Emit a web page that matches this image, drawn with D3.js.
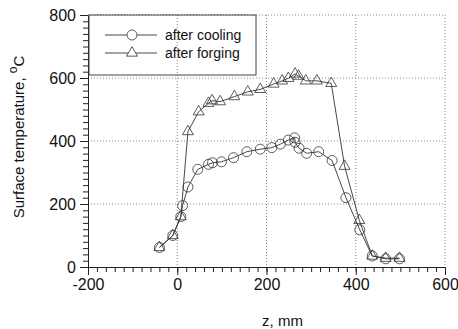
<!DOCTYPE html>
<html>
<head>
<meta charset="utf-8">
<script src="https://cdn.jsdelivr.net/npm/d3@7"></script>
<style>
  body { margin: 0; background: #fff; }
  svg { font-family: Arial, "Liberation Sans", sans-serif; }
</style>
</head>
<body>
<div id="chart"></div>
<script>
// after cooling (circles)
const coolZ = [-40, -10, 8, 12, 24, 46, 70, 79, 99, 126, 156, 186, 212, 231, 249, 263, 264, 273, 290, 317, 347, 378, 409, 437, 467, 498]
const coolT = [62, 100, 160, 195, 254, 310, 326, 331, 334, 347, 366, 374, 379, 390, 403, 410, 396, 377, 361, 366, 338, 220, 118, 35, 26, 26]
// after forging (triangles)
const forgeZ = [-40, -10, 8, 24, 48, 70, 78, 96, 128, 158, 186, 216, 235, 249, 264, 272, 288, 313, 345, 375, 408, 437, 467, 498]
const forgeT = [62, 100, 160, 430, 493, 520, 528, 525, 541, 556, 564, 581, 591, 599, 613, 606, 591, 591, 583, 320, 148, 35, 28, 28]

const seriesNames = ["after cooling", "after forging"]
const xTicks = [-200, 0, 200, 400, 600]
const yTicks = [0, 200, 400, 600, 800]

const margin = {top: 15, right: 13, bottom: 62, left: 88},
    width = 458 - margin.left - margin.right,
    height = 329 - margin.top - margin.bottom;

const svg = d3.select("#chart")
  .append("svg")
    .attr("width", 458)
    .attr("height", 329)
  .append("g")
    .attr("transform", `translate(${margin.left}, ${margin.top})`);

const x = d3.scaleLinear().domain([-200, 600]).range([0, width])
const y = d3.scaleLinear().domain([0, 800]).range([height, 0])

// dotted grid
svg.append("g")
  .selectAll("line")
  .data(xTicks.slice(1))
  .enter().append("line")
    .attr("x1", d => x(d)).attr("x2", d => x(d))
    .attr("y1", 0).attr("y2", height)
    .attr("stroke", "#888").attr("stroke-width", 1)
    .attr("stroke-dasharray", "1,2")
svg.append("g")
  .selectAll("line")
  .data(yTicks.slice(1))
  .enter().append("line")
    .attr("x1", 0).attr("x2", width)
    .attr("y1", d => y(d)).attr("y2", d => y(d))
    .attr("stroke", "#888").attr("stroke-width", 1)
    .attr("stroke-dasharray", "1,2")

// minor ticks then major axes
svg.append("g")
  .attr("transform", `translate(0, ${height})`)
  .call(d3.axisBottom(x).ticks(40).tickSize(5).tickFormat(""))
  .call(g => g.select(".domain").remove())
svg.append("g")
  .call(d3.axisLeft(y).ticks(40).tickSize(5).tickFormat(""))
  .call(g => g.select(".domain").remove())

svg.append("g")
  .attr("transform", `translate(0, ${height})`)
  .call(d3.axisBottom(x).tickValues(xTicks).tickSize(8).tickSizeOuter(0).tickPadding(4).tickFormat(d => String(d)))
svg.append("g")
  .call(d3.axisLeft(y).tickValues(yTicks).tickSize(8).tickSizeOuter(0).tickPadding(4).tickFormat(d => String(d)))

svg.selectAll(".tick text").style("font-size", "16px").attr("fill", "#111")
svg.selectAll(".tick line").attr("stroke", "#222")
svg.selectAll(".domain").attr("stroke", "#222")

// series
const cool = coolZ.map((z, i) => ({z: z, t: coolT[i]}))
const forge = forgeZ.map((z, i) => ({z: z, t: forgeT[i]}))
const line = d3.line().x(d => x(d.z)).y(d => y(d.t))

svg.append("path").datum(cool)
  .attr("d", line).attr("fill", "none").attr("stroke", "#333").attr("stroke-width", 0.9)
svg.append("path").datum(forge)
  .attr("d", line).attr("fill", "none").attr("stroke", "#333").attr("stroke-width", 0.9)

const tri = d3.symbol().type(d3.symbolTriangle).size(52)

svg.selectAll(".circ")
  .data(cool)
  .enter().append("circle")
    .attr("class", "circ")
    .attr("cx", d => x(d.z)).attr("cy", d => y(d.t)).attr("r", 5)
    .attr("fill", "none").attr("stroke", "#333").attr("stroke-width", 0.8)

svg.selectAll(".tri")
  .data(forge)
  .enter().append("path")
    .attr("class", "tri")
    .attr("d", tri)
    .attr("transform", d => `translate(${x(d.z)}, ${y(d.t)})`)
    .attr("fill", "none").attr("stroke", "#333").attr("stroke-width", 0.8)

// legend
const legend = svg.append("g")
legend.append("rect")
  .attr("x", 1).attr("y", 0).attr("width", 167).attr("height", 60)
  .attr("fill", "none").attr("stroke", "#444").attr("stroke-width", 1)
seriesNames.forEach((name, i) => {
  const ly = 20 + i * 18
  legend.append("line")
    .attr("x1", 17).attr("x2", 69).attr("y1", ly).attr("y2", ly)
    .attr("stroke", "#333").attr("stroke-width", 0.9)
  if (i === 0) {
    legend.append("circle").attr("cx", 44).attr("cy", ly).attr("r", 5)
      .attr("fill", "#fff").attr("stroke", "#333").attr("stroke-width", 0.8)
  } else {
    legend.append("path").attr("d", tri).attr("transform", `translate(44, ${ly})`)
      .attr("fill", "#fff").attr("stroke", "#333").attr("stroke-width", 0.8)
  }
  legend.append("text")
    .attr("x", 77).attr("y", ly + 5)
    .style("font-size", "14px").attr("fill", "#111")
    .text(name)
})

// axis titles
svg.append("text")
  .attr("x", x(200) + 16).attr("y", height + 59)
  .attr("text-anchor", "middle")
  .style("font-size", "15px").attr("fill", "#111")
  .text("z, mm")

const yt = svg.append("text")
  .attr("transform", `translate(${-64}, ${height / 2 - 4}) rotate(-90)`)
  .attr("text-anchor", "middle")
  .style("font-size", "15px").attr("fill", "#111")
yt.append("tspan").text("Surface temperature,  ")
yt.append("tspan").attr("dy", -7).style("font-size", "12px").text("o")
yt.append("tspan").attr("dy", 7).text("C")
</script>
</body>
</html>
